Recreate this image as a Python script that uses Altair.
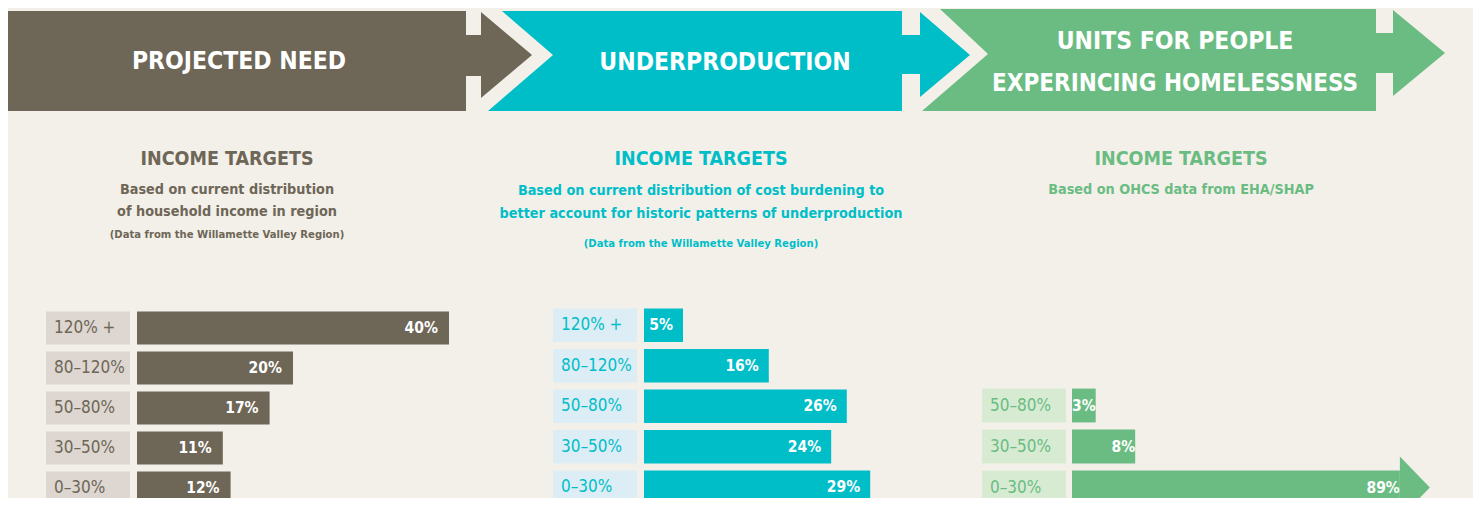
import altair as alt
import pandas as pd

# ---------------- data ----------------
income_bands = ["120% +", "80–120%", "50–80%", "30–50%", "0–30%"]
projected_need = [40, 20, 17, 11, 12]
underproduction = [5, 16, 26, 24, 29]
homeless_bands = ["50–80%", "30–50%", "0–30%"]
homeless_units = [3, 8, 89]

# ---------------- style ----------------
BG = "#f3f0ea"
BROWN = "#6e6656"
CYAN = "#00bec8"
GREEN = "#6abc82"
BOX1 = "#ddd6d1"
BOX2 = "#dcedf6"
BOX3 = "#d7ebd3"
FONT = "DejaVu Sans Condensed, Liberation Sans Narrow, Roboto, sans-serif"
OFF = 8  # page margin: reference pixel -> plot pixel

one = pd.DataFrame({"k": [0]})


def txt(s, cx, cy, size, color, weight="bold"):
    return alt.Chart(one).mark_text(
        text=s, font=FONT, fontSize=size, fontWeight=weight, color=color,
        align="center", baseline="alphabetic"
    ).encode(x=alt.value(cx - OFF), y=alt.value(cy - OFF + 0.365 * size))


def poly(pts):
    return "M" + " L".join(f"{x - OFF},{y - OFF}" for x, y in pts) + " Z"


# header arrows (decoration)
brown_arrow = [(7, 11), (466, 11), (466, 35), (481, 35), (481, 12), (532, 55), (481, 98),
               (481, 76), (466, 76), (466, 111), (7, 111)]
cyan_arrow = [(502, 11), (902, 11), (902, 35), (920, 35), (920, 12), (970, 55), (920, 97),
              (920, 74), (902, 74), (902, 111), (488, 111), (553, 55)]
green_arrow = [(940, 9), (1376, 9), (1376, 33), (1393, 33), (1393, 10), (1445, 53), (1393, 96),
               (1393, 73), (1376, 73), (1376, 111), (922, 111), (988, 54)]

decor_df = pd.DataFrame({
    "path": [poly(brown_arrow), poly(cyan_arrow), poly(green_arrow)],
    "fill": [BROWN, CYAN, GREEN],
})
decor = alt.Chart(decor_df).mark_point(
    filled=True, size=4, opacity=1, strokeWidth=0
).encode(
    x=alt.value(0), y=alt.value(0),
    shape=alt.Shape("path:N", scale=None),
    color=alt.Color("fill:N", scale=None),
)

texts = [
    txt("PROJECTED NEED", 239, 60, 24.5, "white"),
    txt("UNDERPRODUCTION", 725, 61, 24.5, "white"),
    txt("UNITS FOR PEOPLE", 1175, 40, 24.5, "white"),
    txt("EXPERINCING HOMELESSNESS", 1175, 82, 24, "white"),
    txt("INCOME TARGETS", 227, 158, 19.5, BROWN),
    txt("Based on current distribution", 227, 188.5, 14.3, BROWN),
    txt("of household income in region", 227, 211, 14.3, BROWN),
    txt("(Data from the Willamette Valley Region)", 227, 234, 11.2, BROWN),
    txt("INCOME TARGETS", 701, 158, 19.5, CYAN),
    txt("Based on current distribution of cost burdening to", 701, 190, 14.3, CYAN),
    txt("better account for historic patterns of underproduction", 701, 213, 14.3, CYAN),
    txt("(Data from the Willamette Valley Region)", 701, 243, 11.2, CYAN),
    txt("INCOME TARGETS", 1181, 158, 19.5, GREEN),
    txt("Based on OHCS data from EHA/SHAP", 1181, 189, 14.3, GREEN),
]


def panel(bands, values, box_x, y_range, x_zero, px_per, box_color, color, label_dx, cap=None):
    df = pd.DataFrame({"band": bands, "v": values})
    df["label"] = [f"{v}%" for v in values]
    dmax = max(values) if cap is None else cap
    xs = alt.Scale(domain=[0, dmax], range=[x_zero - OFF, x_zero - OFF + dmax * px_per],
                   nice=False, zero=True)
    ys = alt.Scale(domain=bands, range=[y_range[0] - OFF, y_range[1] - OFF],
                   paddingInner=0.175, paddingOuter=0.0875)
    base = alt.Chart(df).transform_calculate(shown=f"min(datum.v, {dmax})")
    Y = alt.Y("band:N", scale=ys, axis=None)
    X = alt.X("shown:Q", scale=xs, axis=None)
    box = base.mark_rect(color=box_color).encode(
        x=alt.value(box_x - OFF), x2=alt.value(box_x + 84 - OFF), y=Y)
    lab = base.mark_text(font=FONT, fontSize=17, color=color, align="left",
                         baseline="middle").encode(x=alt.value(box_x), y=Y, text="band:N")
    bar = base.mark_bar(color=color).encode(x=X, y=Y)
    val = base.mark_text(font=FONT, fontSize=15.5, fontWeight="bold", color="white",
                         align="right", baseline="middle", dx=label_dx).encode(
        x=X, y=Y, text="label:N")
    layers = [box, lab, bar, val]
    if cap is not None:
        head = base.transform_filter(f"datum.v > {cap}").mark_point(
            shape="M0,-31 L30,0 L0,31 Z", size=4, filled=True, opacity=1,
            color=color, strokeWidth=0).encode(x=X, y=Y)
        layers.append(head)
    return alt.layer(*layers)


p1 = panel(income_bands, projected_need, 46, (308, 508), 137, 7.8, BOX1, BROWN, -11)
p2 = panel(income_bands, underproduction, 553, (305, 507.5), 644, 7.8, BOX2, CYAN, -10)
p3 = panel(homeless_bands, homeless_units, 982, (385, 508), 1072, 7.9, BOX3, GREEN, 0, cap=41.5)

chart = alt.layer(decor, *texts, p1, p2, p3).resolve_scale(
    x="independent", y="independent"
).properties(
    width=1465, height=490, padding=0,
    autosize=alt.AutoSizeParams(type="none"), background=BG
).configure_view(strokeWidth=0)

chart.save("out.html", embed_options={"renderer": "svg", "actions": False})
